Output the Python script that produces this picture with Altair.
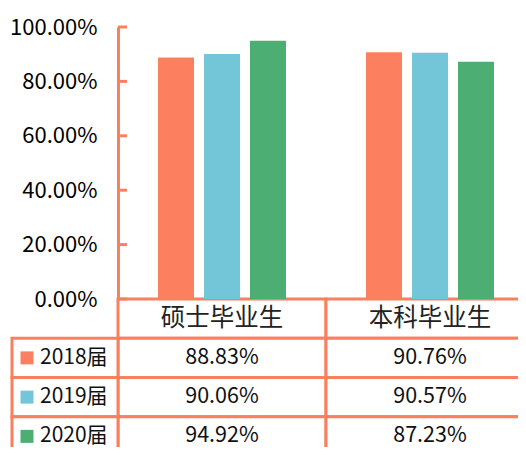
import altair as alt
import pandas as pd

categories = ["硕士毕业生", "本科毕业生"]
years = ["2018届", "2019届", "2020届"]
colors = ["#FC8060", "#73C6D8", "#4CAE73"]
values_master = [0.8883, 0.9006, 0.9492]
values_bachelor = [0.9076, 0.9057, 0.8723]
tick_values = [0.0, 0.2, 0.4, 0.6, 0.8, 1.0]

LINE = "#F9805F"
FONT = "Noto Sans CJK SC"

rows = []
for y, vm, vb in zip(years, values_master, values_bachelor):
    rows.append({"cat": categories[0], "year": y, "value": vm})
    rows.append({"cat": categories[1], "year": y, "value": vb})
df = pd.DataFrame(rows)
df["label"] = df["value"].map(lambda v: f"{v*100:.2f}%")

# layout (pixels)
PLOT_H = 272
TABLE_H = 157
FULL_W = 416

xscale = alt.Scale(domain=categories, range=[0, FULL_W], paddingInner=0, paddingOuter=0)
cscale = alt.Scale(domain=years, range=colors)
yscale = alt.Scale(domain=[0, 1], nice=False, range=[PLOT_H, 0])
yaxis = alt.Axis(values=tick_values, format=".2%", title=None, grid=False,
                 tickSize=0, labelPadding=21, labelFont=FONT, labelFontSize=22,
                 labelColor="#000000", domainColor=LINE, domainWidth=3)

bars = alt.Chart(df).mark_bar().encode(
    x=alt.X("cat:N", scale=xscale, axis=None),
    xOffset=alt.XOffset("year:N", scale=alt.Scale(domain=years, paddingInner=0.217, paddingOuter=0.87)),
    y=alt.Y("value:Q", scale=yscale, axis=yaxis),
    color=alt.Color("year:N", scale=cscale, legend=None),
)

ticks = alt.Chart(pd.DataFrame({"value": tick_values})).mark_rule(color=LINE, strokeWidth=3).encode(
    y=alt.Y("value:Q", scale=yscale, axis=yaxis),
    x=alt.value(0),
    x2=alt.value(9),
)

top = alt.layer(bars, ticks)

row_order = ["header"] + years
yrow = alt.Scale(domain=row_order, range=[PLOT_H, PLOT_H + TABLE_H], paddingInner=0, paddingOuter=0)

header_df = pd.DataFrame({"cat": categories, "row": ["header"] * len(categories), "label": categories})
cell_df = pd.DataFrame({"cat": df["cat"], "row": df["year"], "label": df["label"]})
all_cells = pd.concat([header_df, cell_df], ignore_index=True)
legend_df = pd.DataFrame({"row": years, "year": years})

cells = alt.Chart(all_cells).mark_rect(fill="white", stroke=LINE, strokeWidth=3).encode(
    x=alt.X("cat:N", scale=xscale, axis=None),
    y=alt.Y("row:N", scale=yrow, axis=None),
)
header_text = alt.Chart(header_df).mark_text(font=FONT, fontSize=24.5, color="#222222", baseline="middle").encode(
    x=alt.X("cat:N", scale=xscale, axis=None),
    y=alt.Y("row:N", scale=yrow, axis=None),
    text="label:N",
)
cell_text = alt.Chart(cell_df).mark_text(font=FONT, fontSize=21.5, color="#111111", baseline="middle").encode(
    x=alt.X("cat:N", scale=xscale, axis=None),
    y=alt.Y("row:N", scale=yrow, axis=None),
    text="label:N",
)
legend_cells = alt.Chart(legend_df).mark_rect(fill="white", stroke=LINE, strokeWidth=3).encode(
    x=alt.value(-106), x2=alt.value(0),
    y=alt.Y("row:N", scale=yrow, axis=None),
)
squares = alt.Chart(legend_df).mark_square(size=169, opacity=1).encode(
    x=alt.value(-91),
    y=alt.Y("row:N", scale=yrow, axis=None),
    color=alt.Color("year:N", scale=cscale, legend=None),
)
legend_text = alt.Chart(legend_df).mark_text(font=FONT, fontSize=21, color="#111111", align="left", baseline="middle").encode(
    x=alt.value(-78),
    y=alt.Y("row:N", scale=yrow, axis=None),
    text="year:N",
)

table = alt.layer(cells, legend_cells, header_text, cell_text, squares, legend_text)

chart = alt.layer(table, top).resolve_scale(y="independent").properties(
    width=400, height=420,
    autosize=alt.AutoSizeParams(type="none"),
    padding={"top": 19, "left": 110, "right": 0, "bottom": 0},
).configure_view(stroke=None)

chart.save("out.html", embed_options={"renderer": "svg", "actions": False})
